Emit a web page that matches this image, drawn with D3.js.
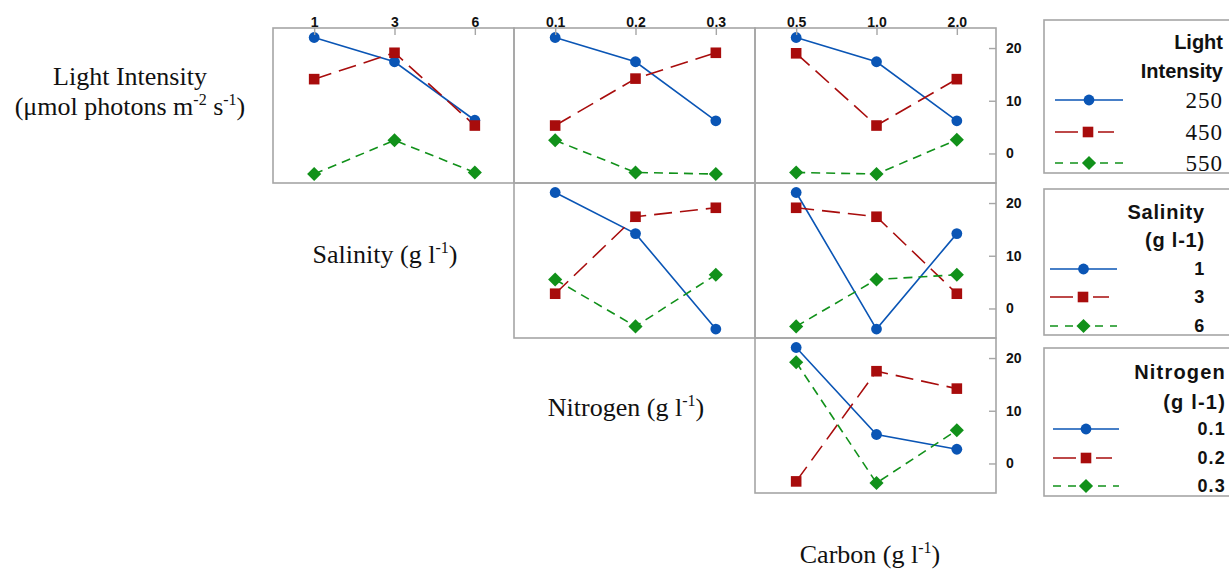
<!DOCTYPE html>
<html>
<head>
<meta charset="utf-8">
<script src="https://cdn.jsdelivr.net/npm/d3@7"></script>
<style>
  body { margin: 0; background: #fff; }
  svg { display: block; }
</style>
</head>
<body>
<svg id="chart" width="1229" height="571"></svg>
<script>
// factor levels
const lightLevels = ["250", "450", "550"];
const salinityLevels = ["1", "3", "6"];
const nitrogenLevels = ["0.1", "0.2", "0.3"];
const carbonLevels = ["0.5", "1.0", "2.0"];
const yTicks = [0, 10, 20];

// row 1: traces = light intensity
const lightBySalinity = [[22.0, 17.4, 6.3], [14.1, 19.1, 5.3], [-3.9, 2.5, -3.6]];
const lightByNitrogen = [[22.0, 17.4, 6.2], [5.3, 14.2, 19.1], [2.5, -3.6, -3.9]];
const lightByCarbon = [[22.0, 17.4, 6.2], [19.0, 5.3, 14.1], [-3.6, -3.9, 2.6]];
// row 2: traces = salinity
const salinityByNitrogen = [[22.0, 14.2, -3.9], [2.8, 17.4, 19.1], [5.5, -3.4, 6.4]];
const salinityByCarbon = [[22.0, -3.9, 14.2], [19.1, 17.4, 2.8], [-3.4, 5.5, 6.4]];
// row 3: traces = nitrogen
const nitrogenByCarbon = [[22.0, 5.5, 2.7], [-3.4, 17.5, 14.2], [19.2, -3.7, 6.3]];

const colors = ["#0a55b5", "#a80c0c", "#11911a"];
const dashes = [null, "18,8", "9,6"];
const legendDashes = [null, "23,20", "8,7"];
const grid = "#a6a6a6";
const sans = "'Liberation Sans', Arial, sans-serif";
const serif = "'Liberation Serif', 'Times New Roman', serif";

const svg = d3.select("#chart");

const colLeft = [273, 514, 755];
const colW = 241;
const rowTop = [28, 183, 338];
const rowH = 155;

const xLevels = [salinityLevels, nitrogenLevels, carbonLevels];
const xScales = xLevels.map((lv, i) =>
  d3.scalePoint().domain(lv).range([colLeft[i] + 1, colLeft[i] + colW + 1]).padding(0.5));
const yScales = rowTop.map(t => d3.scaleLinear().domain([-5.6, 23.8]).range([t + rowH, t]));

const panels = [
  {row: 0, col: 0, data: lightBySalinity},
  {row: 0, col: 1, data: lightByNitrogen},
  {row: 0, col: 2, data: lightByCarbon},
  {row: 1, col: 1, data: salinityByNitrogen},
  {row: 1, col: 2, data: salinityByCarbon},
  {row: 2, col: 2, data: nitrogenByCarbon}
];

function marker(g, k, x, y) {
  if (k === 0) {
    g.append("circle").attr("cx", x).attr("cy", y).attr("r", 5.4).attr("fill", colors[0]);
  } else if (k === 1) {
    g.append("rect").attr("x", x - 5.3).attr("y", y - 5.3).attr("width", 10.6).attr("height", 10.6)
      .attr("fill", colors[1]);
  } else {
    g.append("path").attr("d", d3.symbol(d3.symbolSquare, 100)())
      .attr("transform", `translate(${x},${y}) rotate(45)`).attr("fill", colors[2]);
  }
}

panels.forEach(p => {
  const x = xScales[p.col], y = yScales[p.row];
  const g = svg.append("g");
  g.append("rect")
    .attr("x", colLeft[p.col]).attr("y", rowTop[p.row])
    .attr("width", colW).attr("height", rowH)
    .attr("fill", "none").attr("stroke", grid).attr("stroke-width", 1.6);

  const line = d3.line().x((d, i) => x(xLevels[p.col][i])).y(d => y(d));
  p.data.forEach((vals, k) => {
    g.append("path").datum(vals)
      .attr("d", line)
      .attr("fill", "none")
      .attr("stroke", colors[k])
      .attr("stroke-width", 1.6)
      .attr("stroke-dasharray", dashes[k]);
  });
  p.data.forEach((vals, k) => {
    vals.forEach((v, i) => marker(g, k, x(xLevels[p.col][i]), y(v)));
  });
});

// top axes (row 1 only)
xScales.forEach(x => {
  const ax = svg.append("g")
    .attr("transform", `translate(0,${rowTop[0]})`)
    .call(d3.axisTop(x).tickSizeInner(-7).tickSizeOuter(0).tickPadding(1));
  ax.select(".domain").remove();
  ax.selectAll(".tick line").attr("stroke", grid).attr("stroke-width", 1.4);
  ax.selectAll(".tick text").attr("fill", "#111").style("font", `bold 14px ${sans}`);
});

// right axes
yScales.forEach(y => {
  const ax = svg.append("g")
    .attr("transform", `translate(${colLeft[2] + colW},0)`)
    .call(d3.axisRight(y).tickValues(yTicks).tickSizeInner(-7).tickSizeOuter(0).tickPadding(10));
  ax.select(".domain").remove();
  ax.selectAll(".tick line").attr("stroke", grid).attr("stroke-width", 1.4);
  ax.selectAll(".tick text").attr("fill", "#111").style("font", `bold 14px ${sans}`);
});

// legends
const legends = [
  {top: 20, bottom: 173, title: ["Light", "Intensity"], titleY: [42, 71], items: lightLevels,
   itemY: [100, 132, 163], right: 1223, serif: true, lx: [1055, 1123], spacing: 0},
  {top: 189, bottom: 335, title: ["Salinity", "(g l-1)"], titleY: [212, 240], items: salinityLevels,
   itemY: [269, 297, 326], right: 1205, serif: false, lx: [1050, 1117], spacing: 0.8},
  {top: 348, bottom: 496, title: ["Nitrogen", "(g l-1)"], titleY: [372, 402], items: nitrogenLevels,
   itemY: [429, 458, 486], right: 1226, serif: false, lx: [1053, 1119], spacing: 1.2}
];

legends.forEach(L => {
  const g = svg.append("g");
  g.append("rect").attr("x", 1044).attr("y", L.top).attr("width", 200).attr("height", L.bottom - L.top)
    .attr("fill", "#fff").attr("stroke", grid).attr("stroke-width", 1.6);
  L.title.forEach((t, i) => {
    g.append("text").attr("x", L.right).attr("y", L.titleY[i]).attr("dy", "0.36em")
      .attr("text-anchor", "end").attr("fill", "#111")
      .style("font", `bold 20px ${sans}`).style("letter-spacing", `${L.spacing}px`)
      .text(t);
  });
  L.items.forEach((t, k) => {
    const yy = L.itemY[k];
    const mid = (L.lx[0] + L.lx[1]) / 2;
    const x2 = k === 1 ? L.lx[0] + 59 : L.lx[1];
    g.append("line").attr("x1", L.lx[0]).attr("x2", x2).attr("y1", yy).attr("y2", yy)
      .attr("stroke", colors[k]).attr("stroke-width", 1.6).attr("stroke-dasharray", legendDashes[k]);
    marker(g, k, k === 1 ? L.lx[0] + 33 : mid, yy);
    g.append("text").attr("x", L.right).attr("y", yy).attr("dy", "0.36em")
      .attr("text-anchor", "end").attr("fill", "#111")
      .style("font", L.serif ? `23px ${serif}` : `bold 18px ${sans}`)
      .style("letter-spacing", L.serif ? "1px" : `${L.spacing}px`)
      .text(t);
  });
});

// factor labels
function factorLabel(x, y, parts) {
  const t = svg.append("text").attr("x", x).attr("y", y).attr("text-anchor", "middle")
    .attr("fill", "#111").style("font", `26px ${serif}`);
  parts.forEach(p => {
    const s = t.append("tspan").text(p[0]);
    if (p[1]) s.attr("font-size", 16).attr("dy", -10);
    if (p[2]) s.attr("dy", 10);
  });
}
factorLabel(130, 85, [["Light Intensity"]]);
factorLabel(130, 115, [["(\u03bcmol photons m"], ["-2", true], [" s", false, true], ["-1", true], [")", false, true]]);
factorLabel(385, 263, [["Salinity (g l"], ["-1", true], [")", false, true]]);
factorLabel(626, 416, [["Nitrogen (g l"], ["-1", true], [")", false, true]]);
factorLabel(870, 563, [["Carbon (g l"], ["-1", true], [")", false, true]]);
</script>
</body>
</html>
